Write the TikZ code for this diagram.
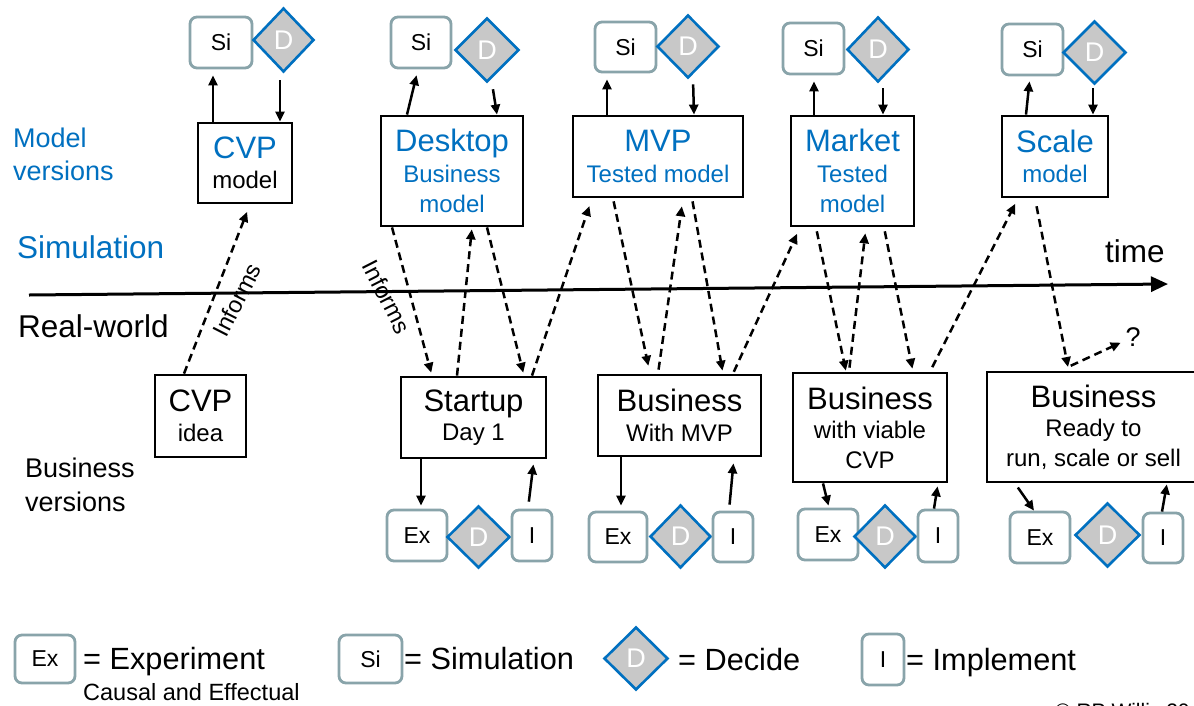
\documentclass[tikz,border=0pt]{standalone}
\usepackage{fontspec}
\setmainfont{Liberation Sans}
\usetikzlibrary{shapes.geometric,arrows.meta,calc}
\definecolor{myblue}{RGB}{0,112,192}
\definecolor{boxgray}{RGB}{137,164,170}
\definecolor{dgray}{RGB}{200,200,200}
\newcommand{\myfs}[2]{\fontsize{#1}{#2}\selectfont}
\tikzset{
  mbox/.style={draw, line width=2.8pt, inner sep=0pt, align=center, text=myblue, font=\myfs{24}{30.5}},
  bbox/.style={draw, line width=2.8pt, inner sep=0pt, align=center, font=\myfs{24}{29.5}},
  sbox/.style={draw=boxgray, line width=2.8pt, rounded corners=7pt, inner sep=0pt, fill=white, font=\myfs{23}{23}},
  dec/.style={diamond, draw=myblue, fill=dgray, line width=2.6pt, inner sep=0pt, text=white, font=\myfs{27}{27}},
  arr/.style={line width=2.5pt, -{Triangle[length=10pt,width=9pt]}},
  darr/.style={arr, dash pattern=on 8pt off 5pt},
  lbl/.style={font=\myfs{31.5}{33}, inner sep=0pt},
  leg/.style={font=\myfs{30.7}{33}, inner sep=0pt},
  inf/.style={font=\myfs{23.5}{23.5}, inner sep=0pt},
}
\begin{document}
\begin{tikzpicture}[x=1pt,y=-1pt]
\useasboundingbox (0,0) rectangle (1194,705);
\clip (0,0) rectangle (1194,705);
\fill[white] (0,0) rectangle (1194,705);

% left labels
\node[lbl, anchor=west, align=left, text=myblue, font=\myfs{27}{33}] (lmv) at (13,154) {Model\\versions};
\node[lbl, anchor=base west, text=myblue] (lsim) at (17,258) {Simulation};
\node[lbl, anchor=base west] (lrw) at (18,337) {Real-world};
\node[lbl, anchor=west, align=left, font=\myfs{27}{33.5}] (lbv) at (25,485) {Business\\versions};

% time axis
\coordinate (t0) at (29,295);
\coordinate (t1) at (1168,284);
\draw[line width=3pt, -{Triangle[length=17pt,width=15pt]}] (t0) -- (t1);
\node[lbl, anchor=base west] (ltime) at (1105,262) {time};

% model boxes
\node[mbox, minimum width=94, minimum height=80] (cvpm) at (245,163) {{\myfs{31}{30.5}CVP}\\\textcolor{black}{model}};
\node[mbox, minimum width=142, minimum height=110] (desk) at (452,171) {{\myfs{31}{30.5}Desktop}\\Business\\model};
\node[mbox, minimum width=170, minimum height=81] (mvp) at (658,156.5) {{\myfs{31}{30.5}MVP}\\Tested model};
\node[mbox, minimum width=123, minimum height=110] (mkt) at (852.5,171) {{\myfs{31}{30.5}Market}\\Tested\\model};
\node[mbox, minimum width=106, minimum height=81] (scl) at (1055,156.5) {{\myfs{31}{30.5}Scale}\\model};

% business boxes
\node[bbox, minimum width=91, minimum height=82] (idea) at (200.5,416) {{\myfs{31}{29.5}CVP}\\idea};
\node[bbox, minimum width=145, minimum height=81] (stu) at (473.5,417.5) {{\myfs{31}{29.5}Startup}\\Day 1};
\node[bbox, minimum width=163, minimum height=81] (bmvp) at (679.5,415.5) {{\myfs{31}{29.5}Business}\\With MVP};
\node[bbox, minimum width=154, minimum height=109] (bvia) at (870,427.5) {{\myfs{31}{29.5}Business}\\with viable\\CVP};
\node[bbox, minimum width=213, minimum height=110] (brdy) at (1093.5,427) {{\myfs{31}{29.5}Business}\\Ready to\\run, scale or sell};

% top Si / D
\node[sbox, minimum width=62, minimum height=51] (si1) at (221,42.5) {Si};
\node[dec, minimum width=61, minimum height=64] (d1) at (283.5,40) {D};
\node[sbox, minimum width=60, minimum height=51] (si2) at (421,42.5) {Si};
\node[dec, minimum width=64, minimum height=64] (d2) at (487,50) {D};
\node[sbox, minimum width=61, minimum height=50] (si3) at (625.5,47) {Si};
\node[dec, minimum width=62, minimum height=63] (d3) at (688,46.5) {D};
\node[sbox, minimum width=61, minimum height=51] (si4) at (813.5,48.5) {Si};
\node[dec, minimum width=62, minimum height=65] (d4) at (878,49.5) {D};
\node[sbox, minimum width=61, minimum height=51] (si5) at (1032.5,49.5) {Si};
\node[dec, minimum width=63, minimum height=63] (d5) at (1094.5,52.5) {D};

% bottom Ex / D / I
\node[sbox, minimum width=60, minimum height=51] (ex1) at (417,535.5) {Ex};
\node[dec, minimum width=63, minimum height=62] (e1) at (478.5,537) {D};
\node[sbox, minimum width=40, minimum height=51] (i1) at (532,535.5) {I};
\node[sbox, minimum width=58, minimum height=50] (ex2) at (618,537) {Ex};
\node[dec, minimum width=61, minimum height=63] (e2) at (680.5,536.5) {D};
\node[sbox, minimum width=40, minimum height=50] (i2) at (733,537) {I};
\node[sbox, minimum width=60, minimum height=51] (ex3) at (828,534.5) {Ex};
\node[dec, minimum width=62, minimum height=63] (e3) at (885,536.5) {D};
\node[sbox, minimum width=40, minimum height=52] (i3) at (938,536) {I};
\node[sbox, minimum width=60, minimum height=51] (ex4) at (1040,537.5) {Ex};
\node[dec, minimum width=65, minimum height=64] (e4) at (1107.5,535) {D};
\node[sbox, minimum width=40, minimum height=50] (i4) at (1163,538) {I};

% top solid arrows
\draw[arr, shorten >=6pt] ([xshift=-32pt]cvpm.north) -- ([xshift=-8pt]si1.south);
\draw[arr, shorten <=7pt] ([xshift=-3.5pt]d1.south) -- ([xshift=35pt]cvpm.north);
\draw[arr, shorten >=6pt] ([xshift=-45pt]desk.north) -- ([xshift=-3pt]si2.south);
\draw[arr, shorten <=6pt] ([xshift=5pt]d2.south) -- ([xshift=45pt]desk.north);
\draw[arr, shorten >=6pt] ([xshift=-51pt]mvp.north) -- ([xshift=-18.5pt]si3.south);
\draw[arr, shorten <=5pt] ([xshift=5pt]d3.south) -- ([xshift=36pt]mvp.north);
\draw[arr, shorten >=6pt] ([xshift=-38.5pt]mkt.north) -- ([xshift=0.5pt]si4.south);
\draw[arr, shorten <=5pt] ([xshift=5pt]d4.south) -- ([xshift=30.5pt]mkt.north);
\draw[arr, shorten >=5pt] ([xshift=-29pt]scl.north) -- ([xshift=-2.5pt]si5.south);
\draw[arr, shorten <=3pt] ([xshift=-1.5pt]d5.south) -- ([xshift=38pt]scl.north);

% bottom solid arrows
\draw[arr, shorten >=3pt] ([xshift=-52.5pt]stu.south) -- ([xshift=4pt]ex1.north);
\draw[arr, shorten <=7pt, shorten >=5pt] ([xshift=-4pt]i1.north) -- ([xshift=60.5pt]stu.south);
\draw[arr, shorten >=5pt] ([xshift=-58.5pt]bmvp.south) -- ([xshift=3pt]ex2.north);
\draw[arr, shorten <=6pt, shorten >=6pt] ([xshift=-4pt]i2.north) -- ([xshift=54.5pt]bmvp.south);
\draw[arr, shorten >=2pt] ([xshift=-47pt]bvia.south) -- ([xshift=1pt]ex3.north);
\draw[arr, shorten >=3pt] ([xshift=-4pt]i3.north) -- ([xshift=68pt]bvia.south);
\draw[arr, shorten <=5pt] ([xshift=-78.5pt]brdy.south) -- ([xshift=-6pt]ex4.north);
\draw[arr, shorten >=1pt] ([xshift=-1pt]i4.north) -- ([xshift=73.5pt]brdy.south);

% dashed arrows
\draw[darr, shorten >=8pt] ([xshift=-16.5pt]idea.north) -- ([xshift=5pt]cvpm.south);
\draw[darr, shorten >=3pt] ([xshift=-60pt]desk.south) -- ([xshift=-41.5pt]stu.north);
\draw[darr, shorten >=2pt] ([xshift=-16.5pt]stu.north) -- ([xshift=20pt]desk.south);
\draw[darr, shorten >=3pt] ([xshift=35pt]desk.south) -- ([xshift=50.5pt]stu.north);
\draw[darr, shorten >=8pt] ([xshift=58.5pt]stu.north) -- ([xshift=-66pt]mvp.south);
\draw[darr, shorten <=3pt, shorten >=8pt] ([xshift=-45pt]mvp.south) -- ([xshift=-29.5pt]bmvp.north);
\draw[darr, shorten <=4pt, shorten >=8pt] ([xshift=-21.5pt]bmvp.north) -- ([xshift=25pt]mvp.south);
\draw[darr, shorten <=3pt, shorten >=3pt] ([xshift=34pt]mvp.south) -- ([xshift=43.5pt]bmvp.north);
\draw[darr, shorten <=2pt, shorten >=7pt] ([xshift=53.5pt]bmvp.north) -- ([xshift=-52.5pt]mkt.south);
\draw[darr, shorten <=4pt, shorten >=1pt] ([xshift=-36.5pt]mkt.south) -- ([xshift=-24pt]bvia.north);
\draw[darr, shorten <=4pt, shorten >=6pt] ([xshift=-21pt]bvia.north) -- ([xshift=13.5pt]mkt.south);
\draw[darr, shorten <=4pt, shorten >=3pt] ([xshift=31.5pt]mkt.south) -- ([xshift=43pt]bvia.north);
\draw[darr, shorten <=5pt, shorten >=6pt] ([xshift=60pt]bvia.north) -- ([xshift=-37pt]scl.south);
\coordinate (qa) at (1068,367);
\node[font=\myfs{27}{27}, inner sep=1pt] (qm) at (1133,337) {?};
\draw[darr, shorten <=8pt] ([xshift=-20pt]scl.south) -- (qa);
\draw[darr, shorten <=3pt, shorten >=4pt] (qa) -- (qm);

% Informs labels
\node[inf, rotate=63] (inf1) at (237,300) {Informs};
\node[inf, rotate=-63] (inf2) at (387,297) {Informs};

% legend
\node[sbox, minimum width=60, minimum height=48] (lex) at (45,659) {Ex};
\node[leg, anchor=base west] (tex) at (83,669) {= Experiment};
\node[inf, anchor=base west, font=\myfs{23.5}{24}] (tce) at (83,700) {Causal and Effectual};
\node[sbox, minimum width=63, minimum height=48] (lsi) at (370.5,659) {Si};
\node[leg, anchor=base west] (tsi) at (404,669) {= Simulation};
\node[dec, minimum width=64, minimum height=63] (ld) at (636,658.5) {D};
\node[leg, anchor=base west] (tde) at (678,670) {= Decide};
\node[sbox, minimum width=42, minimum height=51] (li) at (883,659.5) {I};
\node[leg, anchor=base west] (tim) at (906,670) {= Implement};
\node[anchor=base west, inner sep=0pt, font=\myfs{21}{21}] (copy) at (1055,718) {© RP Willis 20};
\end{tikzpicture}
\end{document}
